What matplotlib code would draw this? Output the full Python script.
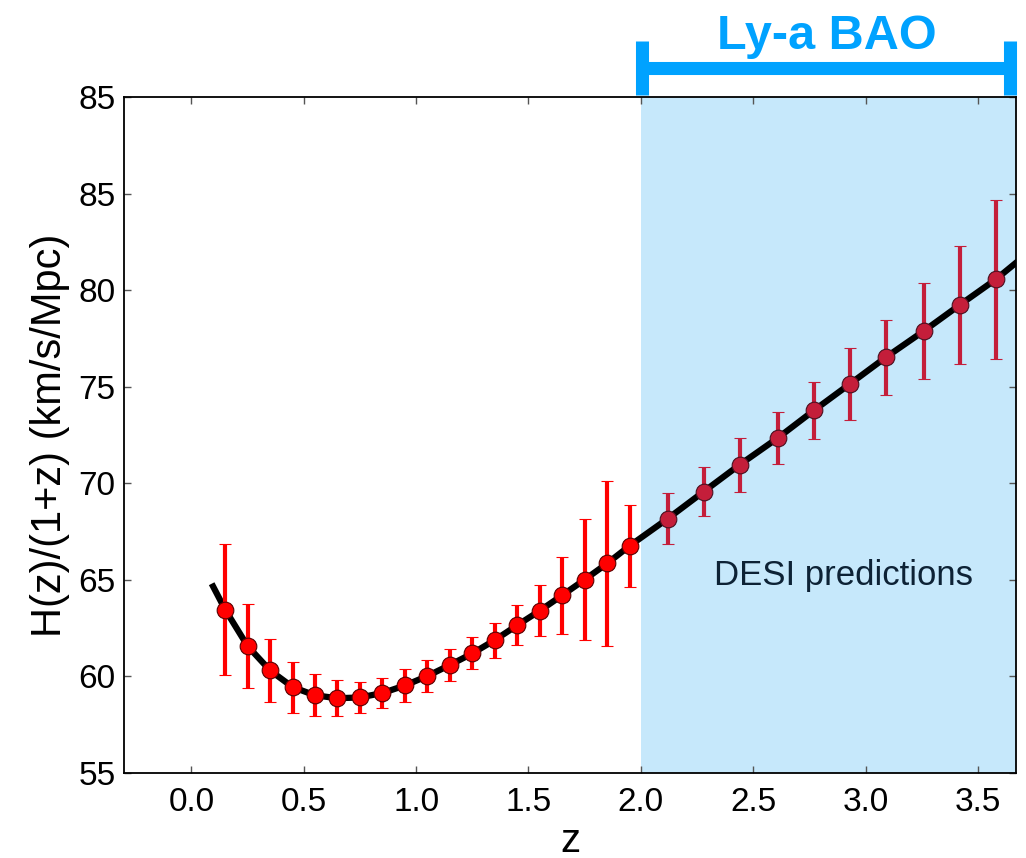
import numpy as np
import matplotlib
matplotlib.use("Agg")
import matplotlib.pyplot as plt
from matplotlib.lines import Line2D
from matplotlib.transforms import blended_transform_factory

plt.rcParams['font.family'] = ['Liberation Sans', 'DejaVu Sans']

# measured points, z < 2
z_low = [0.15, 0.25, 0.35, 0.45, 0.55, 0.65, 0.75, 0.85, 0.95, 1.05,
         1.15, 1.25, 1.35, 1.45, 1.55, 1.65, 1.75, 1.85, 1.95]
h_low = [63.46, 61.57, 60.31, 59.45, 59.02, 58.87, 58.91, 59.14, 59.53, 60.02,
         60.59, 61.19, 61.88, 62.65, 63.40, 64.20, 65.01, 65.85, 66.76]
err_low = [3.38, 2.16, 1.64, 1.32, 1.09, 0.94, 0.82, 0.80, 0.86, 0.85,
           0.84, 0.83, 0.91, 1.04, 1.32, 2.00, 3.13, 4.27, 2.13]

# Ly-a BAO predictions, z > 2
z_desi = [2.12, 2.28, 2.44, 2.61, 2.77, 2.93, 3.09, 3.26, 3.42, 3.58]
h_desi = [68.17, 69.57, 70.96, 72.35, 73.77, 75.14, 76.52, 77.89, 79.24, 80.56]
err_desi = [1.31, 1.25, 1.39, 1.34, 1.49, 1.85, 1.94, 2.50, 3.04, 4.10]

# model curve
curve_z = [0.09] + z_low + z_desi + [3.72]
curve_h = [64.8] + h_low + h_desi + [81.9]

xticks = [0.0, 0.5, 1.0, 1.5, 2.0, 2.5, 3.0, 3.5]
yticks = [55, 60, 65, 70, 75, 80, 85, 90]
ytick_labels = ["55", "60", "65", "70", "75", "80", "85", "85"]

fig = plt.figure(figsize=(10.26, 8.58), dpi=100)
ax = fig.add_axes([0.1209, 0.0991, 0.9903 - 0.1209, 0.8869 - 0.0991])

ax.axvspan(2.0, 4.0, color='#c6e8fb', lw=0, zorder=0)

ax.plot(curve_z, curve_h, color='black', lw=4.5, zorder=2, solid_capstyle='butt')

ax.errorbar(z_low, h_low, yerr=err_low, fmt='o', ms=12, mfc='#ff0000', mec='#5a0000',
            mew=0.8, ecolor='#ff0000', elinewidth=3.0, capsize=4.6, capthick=1.5, zorder=3)
ax.errorbar(z_desi, h_desi, yerr=err_desi, fmt='o', ms=12, mfc='#c41e3a', mec='#4a1020',
            mew=0.8, ecolor='#c41e3a', elinewidth=3.0, capsize=4.6, capthick=1.5, zorder=3)

ax.text(2.9, 65.2, "DESI predictions", fontsize=25, color='#0d2235', ha='center', va='center')

ax.set_xlim(-0.3, 3.67)
ax.set_ylim(55, 90)
ax.set_xticks(xticks)
ax.set_xticklabels(["%.1f" % t for t in xticks])
ax.set_yticks(yticks)
ax.set_yticklabels(ytick_labels)
ax.tick_params(direction='in', length=5, width=1, color='#555555', labelsize=24,
               top=True, right=True)
ax.tick_params(axis='x', pad=10)
ax.tick_params(axis='y', pad=6)
for s in ax.spines.values():
    s.set_linewidth(1.3)

ax.set_xlabel("z", fontsize=29, labelpad=3)
ax.set_ylabel("H(z)/(1+z) (km/s/Mpc)", fontsize=30, labelpad=6)

# Ly-a BAO bracket above the axes
tr = blended_transform_factory(ax.transData, fig.transFigure)
blue = '#00a2ff'
fig.add_artist(Line2D([2.005, 3.643], [0.9207, 0.9207], transform=tr, color=blue, lw=9.4,
                      solid_capstyle='butt'))
for xc in [2.005, 3.643]:
    fig.add_artist(Line2D([xc, xc], [0.8893, 0.9526], transform=tr, color=blue, lw=9.4,
                          solid_capstyle='butt'))
fig.text(2.83, 0.958, "Ly-a BAO", transform=tr, fontsize=35, fontweight='bold',
         color=blue, ha='center', va='center')

fig.savefig("out.png", dpi=100)
